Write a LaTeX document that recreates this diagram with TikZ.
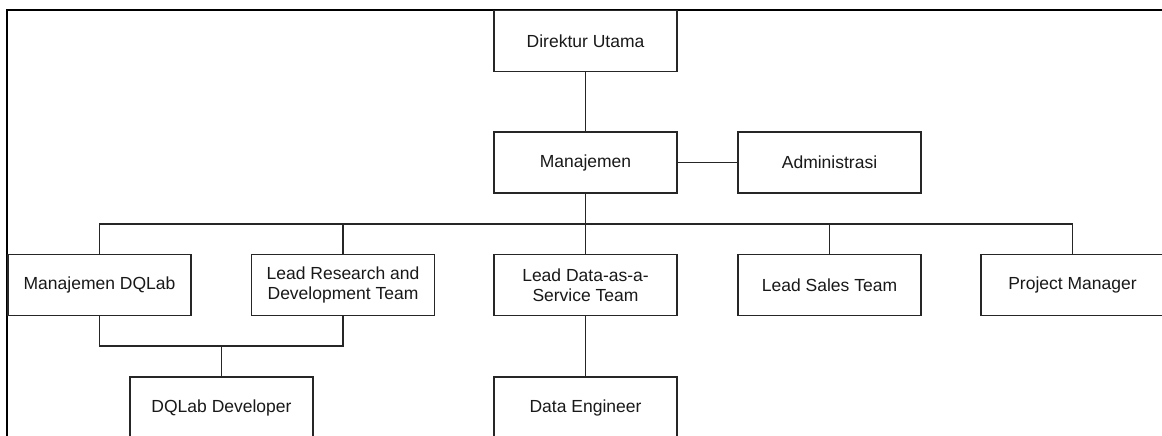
\documentclass[tikz,border=0pt]{standalone}
\usepackage{fontspec}
\setmainfont{Liberation Sans}
\begin{document}
\begin{tikzpicture}[x=1pt,y=-1pt,
  box/.style={draw=black!85,line width=1.2pt,fill=white,minimum width=183pt,minimum height=61pt,
    inner sep=0pt,align=center,text=black!90,font=\fontsize{17.5}{20.5}\selectfont},
  link/.style={draw=black!85,line width=1.2pt},
  frame/.style={draw=black,line width=2pt}]
\useasboundingbox (0,0) rectangle (1162,436);
\clip (0,0) rectangle (1162,436);
\draw[frame] (7,10) rectangle (1250,520);
% nodes
\node[box] (dir) at (585.5,41) {Direktur Utama};
\node[box] (man) at (585.5,162.5) {Manajemen};
\node[box] (adm) at (829.5,162.5) {Administrasi};
\node[box] (mdq) at (99.5,285) {Manajemen DQLab};
\node[box] (lrd) at (343,285) {Lead Research and\\Development Team};
\node[box] (lda) at (585.5,285) {Lead Data-as-a-\\Service Team};
\node[box] (lst) at (829.5,285) {Lead Sales Team};
\node[box] (pm) at (1072.5,285) {Project Manager};
\node[box] (dev) at (221.5,407.5) {DQLab Developer};
\node[box] (de) at (585.5,407.5) {Data Engineer};
\coordinate (bus) at (585.5,224);
\coordinate (join) at (221.5,346);
% connectors
\draw[link] (dir.south) -- (man.north);
\draw[link] (man.east) -- (adm.west);
\draw[link] (man.south) -- (lda.north);
\draw[link] (mdq.north) |- (bus);
\draw[link] (lrd.north) |- (bus);
\draw[link] (lst.north) |- (bus);
\draw[link] (pm.north) |- (bus);
\draw[link] (mdq.south) |- (join);
\draw[link] (lrd.south) |- (join);
\draw[link] (join) -- (dev.north);
\draw[link] (lda.south) -- (de.north);
\end{tikzpicture}
\end{document}
